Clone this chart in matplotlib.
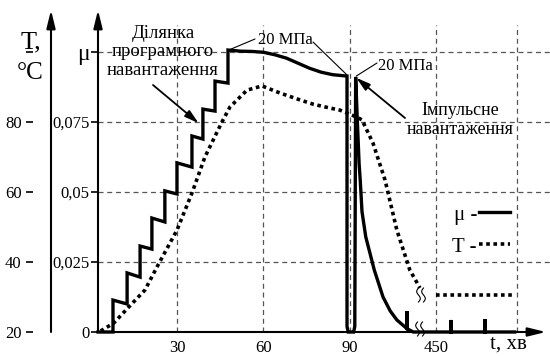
import numpy as np
import matplotlib
matplotlib.use("Agg")
import matplotlib.pyplot as plt
from matplotlib.lines import Line2D
from matplotlib.transforms import IdentityTransform

plt.rcParams['font.family'] = ['Liberation Serif', 'DejaVu Serif']

# ---- data (time in minutes) ----
mu_t = [2.6, 7.8, 7.8, 12.7, 12.7, 17.2, 17.2, 21.3, 21.3, 25.8, 25.8, 30.0, 30.0,
        35.2, 35.2, 39.0, 39.0, 43.2, 43.2, 47.7, 47.7, 52, 56, 60, 64, 68, 72, 76,
        80, 84, 89.0, 89.0, 89.4, 91.3, 91.7, 92.0, 92.6, 93.2, 93.6, 94.2, 95.5,
        97.0, 98.5, 101.5, 104, 106.3, 109.8, 109.8, 109.8, 112, 455.5, 455.5,
        455.5, 468.2, 468.2, 468.2, 479.2]
mu_val = [0, 0, 0.0114, 0.0100, 0.0211, 0.0196, 0.0307, 0.0296, 0.0407, 0.0393,
          0.0504, 0.0493, 0.0604, 0.0589, 0.0700, 0.0689, 0.0796, 0.0789, 0.0896,
          0.0889, 0.1007, 0.1003, 0.1002, 0.0999, 0.0990, 0.0978, 0.0960, 0.0942,
          0.0928, 0.0919, 0.0914, 0.002, 0, 0, 0.002, 0.0911, 0.075, 0.060, 0.054,
          0.043, 0.034, 0.028, 0.022, 0.0125, 0.0075, 0.0043, 0.0012, 0.0075,
          0.0012, 0, 0, 0.0043, 0, 0, 0.0046, 0, 0]

T_t1 = [3.5, 8, 13, 18.9, 23.4, 30.0, 35.2, 39.7, 45.6, 48.4, 54.3, 59.5, 65.7,
        72, 77.2, 83, 86.5, 92.4, 94.2, 98.0, 102.2, 106.3, 110.8, 114.3]
T_val1 = [20.3, 22.5, 26.9, 32.0, 39.1, 49.1, 59.7, 70.0, 80.0, 84.3, 89.1, 90.3,
          88.3, 86.5, 85.1, 84.0, 83.4, 81.4, 80.6, 74.0, 63.4, 49.1, 37.7, 32.6]
T_t2 = [450, 479.2]
T_val2 = [30.6, 30.6]

x_ticks = [30, 60, 90, 450]
x_grid = [30, 60, 90, 450, 480]
mu_ticks = [0, 0.025, 0.05, 0.075, 0.1]
mu_labels = ['0', '0,025', '0,05', '0,075', 'μ']
T_ticks = [20, 40, 60, 80, 100]
T_labels = ['20', '40', '60', '80', '']

# broken time axis: 115..450 squeezed into a short gap
B0, B1, GAP, K = 115.0, 450.0, 5.0, 0.93


def fwd(t):
    t = np.asarray(t, float)
    return np.where(t <= B0, t,
                    np.where(t <= B1, B0 + (t - B0) * GAP / (B1 - B0),
                             B0 + GAP + (t - B1) * K))


def inv(u):
    u = np.asarray(u, float)
    return np.where(u <= B0, u,
                    np.where(u <= B0 + GAP, B0 + (u - B0) * (B1 - B0) / GAP,
                             B1 + (u - B0 - GAP) / K))


W, H = 550, 356
fig = plt.figure(figsize=(W / 100, H / 100), dpi=100)
ax = fig.add_axes([98 / W, 24 / H, 452 / W, 322 / H])
ax.set_xscale('function', functions=(fwd, inv))
ax.set_xlim(2.6, 492.4)
ax.set_ylim(0, 0.115)

axT = ax.twinx()
axT.set_ylim(20, 20 + 800 * 0.115)

for a in (ax, axT):
    for s in a.spines.values():
        s.set_visible(False)

# grid
gcol = '#555555'
ax.hlines(mu_ticks[1:], 2.6, 492.4, colors=gcol, lw=0.9, linestyles=(0, (4, 3)), zorder=1)
ax.vlines(x_grid, 0, 0.1096, colors=gcol, lw=0.9, linestyles=(0, (4, 3)), zorder=1)

# curves
ax.plot(mu_t, mu_val, color='k', lw=2.4, solid_joinstyle='miter', clip_on=False, zorder=4)
axT.plot(T_t1, T_val1, color='k', lw=2.6, ls=(0, (1, 1)), zorder=3)
axT.plot(T_t2, T_val2, color='k', lw=2.6, ls=(0, (1, 1)), zorder=3)

# ticks
ax.set_xticks(x_ticks)
ax.set_xticklabels([str(v) for v in x_ticks])
ax.xaxis.set_minor_locator(matplotlib.ticker.NullLocator())
ax.tick_params(axis='x', length=0, labelsize=12, pad=6)
ax.set_yticks(mu_ticks)
ax.set_yticklabels(mu_labels)
ax.tick_params(axis='y', direction='out', length=5, width=1.2, labelsize=12, pad=1)
ax.get_yticklabels()[-1].set_fontsize(17)

axT.yaxis.tick_left()
axT.spines['left'].set_position(('outward', 47))
axT.set_yticks(T_ticks)
axT.set_yticklabels(T_labels)
axT.tick_params(axis='y', direction='out', length=5, width=1.2, labelsize=12, pad=3)

# axis arrows
arr = dict(arrowstyle='-|>,head_length=0.9,head_width=0.22', lw=1.5, color='k',
           mutation_scale=12, shrinkA=0, shrinkB=0)
for p0, p1 in [((98, 24), (98, 346)), ((51, 24), (51, 346)), ((98, 24), (546, 24))]:
    ax.annotate('', xy=p1, xytext=p0, xycoords='figure pixels', arrowprops=arr)


def fp(x, y):
    return (x, H - y)


# axis labels
ax.annotate('T,', fp(31, 42), xycoords='figure pixels', ha='center', va='center', fontsize=19)
ax.annotate('°C', fp(30, 73), xycoords='figure pixels', ha='center', va='center', fontsize=18)
ax.annotate('t, хв', fp(508, 344), xycoords='figure pixels', ha='center', va='center', fontsize=15)

# annotations
harr = dict(arrowstyle='-|>,head_length=0.7,head_width=0.2', lw=1.3, color='k',
            mutation_scale=12, shrinkA=0, shrinkB=0)
ax.annotate('Ділянка\nпрограмного\nнавантаження', fp(163, 52), xycoords='figure pixels',
            ha='center', va='center', fontsize=13.5, linespacing=1.15)
ax.annotate('', xy=(37.5, 0.0746), xycoords='data', xytext=fp(153, 85),
            textcoords='figure pixels', arrowprops=harr)

ax.annotate('Імпульсне\nнавантаження', fp(460, 120), xycoords='figure pixels',
            ha='center', va='center', fontsize=13, linespacing=1.2)
ax.annotate('', xy=(92.2, 0.0908), xycoords='data', xytext=fp(405, 118),
            textcoords='figure pixels', arrowprops=harr)

lead = dict(arrowstyle='-', lw=0.8, color='k', shrinkA=0, shrinkB=0)
ax.annotate('20 МПа', fp(285, 40), xycoords='figure pixels', ha='center', va='center', fontsize=12)
ax.annotate('', xy=(48.2, 0.1008), xycoords='data', xytext=fp(255, 39),
            textcoords='figure pixels', arrowprops=lead)
ax.annotate('', xy=(89.0, 0.0918), xycoords='data', xytext=fp(313, 42),
            textcoords='figure pixels', arrowprops=lead)
ax.annotate('20 МПа', fp(405, 66), xycoords='figure pixels', ha='center', va='center', fontsize=12)
ax.annotate('', xy=(92.2, 0.0914), xycoords='data', xytext=fp(377, 63),
            textcoords='figure pixels', arrowprops=lead)

# break marks
s = np.linspace(-1, 1, 30)
for xc, yc in [(421, 295), (420, 329)]:
    for dx in (-2.5, 2.5):
        xs = xc + dx + 1.8 * np.sin(np.pi * s)
        ys = H - (yc + 7 * s)
        fig.add_artist(Line2D(xs, ys, transform=IdentityTransform(), color='k', lw=0.8))

# legend
hs = [Line2D([], [], color='k', lw=2.4), Line2D([], [], color='k', lw=2.6, ls=(0, (1, 1)))]
ax.legend(hs, ['μ -', 'T -'], loc='center', bbox_to_anchor=(0.848, 0.314), frameon=False,
          markerfirst=False, fontsize=15, handlelength=1.5, handletextpad=0.1,
          labelspacing=0.6)

fig.savefig('out.png', dpi=100)
